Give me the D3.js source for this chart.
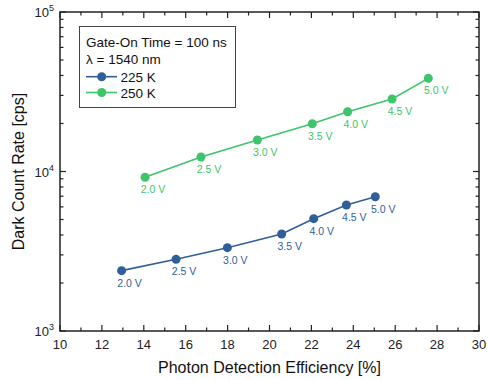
<!DOCTYPE html>
<html><head><meta charset="utf-8">
<script src="https://cdn.jsdelivr.net/npm/d3@7"></script>
<style>body{margin:0;background:#fff}svg{font-family:"Liberation Sans",Arial,sans-serif}</style>
</head><body><svg id="c" width="488" height="380"></svg>
<script>
const voltages = ["2.0 V","2.5 V","3.0 V","3.5 V","4.0 V","4.5 V","5.0 V"];
const pde225 = [12.94,15.54,17.99,20.58,22.11,23.67,25.05];
const dcr225 = [2390,2815,3330,4055,5060,6165,6950];
const pde250 = [14.06,16.73,19.42,22.04,23.73,25.85,27.58];
const dcr250 = [9200,12330,15760,19940,23700,28470,38370];
const xTicks = [10,12,14,16,18,20,22,24,26,28,30];
const yTicks = [1e3,1e4,1e5];
const legendTitle = ["Gate-On Time = 100 ns","λ = 1540 nm"];
const seriesNames = ["225 K","250 K"];
const colors = ["#2f5f9b","#3ec46b"];

const svg = d3.select("#c");
const L=60,R=479,T=12,B=331;
const x = d3.scaleLinear().domain([10,30]).range([L,R]);
const y = d3.scaleLog().domain([1e3,1e5]).range([B,T]);
const axisColor="#222";

// minor ticks
const minorX = d3.range(11,30,2);
const minorY = [];
[1e3,1e4].forEach(d=>{for(let k=2;k<=9;k++)minorY.push(d*k);});

const g = svg.append("g");
// bottom & top ticks
function xt(vals,len){
  vals.forEach(v=>{
    g.append("line").attr("x1",x(v)).attr("x2",x(v)).attr("y1",B).attr("y2",B-len).attr("stroke",axisColor).attr("stroke-width",1.2);
    g.append("line").attr("x1",x(v)).attr("x2",x(v)).attr("y1",T).attr("y2",T+len).attr("stroke",axisColor).attr("stroke-width",1.2);
  });
}
xt(xTicks,6); xt(minorX,3.5);
function yt(vals,len){
  vals.forEach(v=>{
    g.append("line").attr("y1",y(v)).attr("y2",y(v)).attr("x1",L).attr("x2",L+len).attr("stroke",axisColor).attr("stroke-width",1.2);
    g.append("line").attr("y1",y(v)).attr("y2",y(v)).attr("x1",R).attr("x2",R-len).attr("stroke",axisColor).attr("stroke-width",1.2);
  });
}
yt(yTicks,6); yt(minorY,3.5);

g.append("rect").attr("x",L).attr("y",T).attr("width",R-L).attr("height",B-T)
 .attr("fill","none").attr("stroke",axisColor).attr("stroke-width",1.5);

// tick labels
xTicks.forEach(v=>{
  g.append("text").attr("x",x(v)).attr("y",B+18).attr("text-anchor","middle")
   .attr("font-size",13).attr("fill","#222").text(v);
});
yTicks.forEach(v=>{
  const e = Math.round(Math.log10(v));
  const t = g.append("text").attr("x",L-6).attr("y",y(v)+5).attr("text-anchor","end")
   .attr("font-size",13).attr("fill","#222");
  t.append("tspan").text("10");
  t.append("tspan").attr("dy",-6).attr("font-size",9).text(e);
});

// axis titles
svg.append("text").attr("x",(L+R)/2).attr("y",373).attr("text-anchor","middle")
  .attr("font-size",16).attr("fill","#111").text("Photon Detection Efficiency [%]");
svg.append("text").attr("transform",`translate(24,${(T+B)/2}) rotate(-90)`).attr("text-anchor","middle")
  .attr("font-size",16).attr("fill","#111").text("Dark Count Rate [cps]");

// series
const series = [
  {xs:pde225, ys:dcr225, c:colors[0]},
  {xs:pde250, ys:dcr250, c:colors[1]}
];
const line = d3.line().x(d=>x(d[0])).y(d=>y(d[1]));
series.forEach(s=>{
  const pts = s.xs.map((v,i)=>[v,s.ys[i]]);
  svg.append("path").datum(pts).attr("d",line).attr("fill","none").attr("stroke",s.c).attr("stroke-width",1.6);
  svg.selectAll(null).data(pts).enter().append("circle")
    .attr("cx",d=>x(d[0])).attr("cy",d=>y(d[1])).attr("r",4.5).attr("fill",s.c);
  svg.selectAll(null).data(pts).enter().append("text")
    .attr("x",d=>x(d[0])+8).attr("y",d=>y(d[1])+16).attr("text-anchor","middle")
    .attr("font-size",10.5).attr("fill",s.c).text((d,i)=>voltages[i]);
});

// legend
const lg = svg.append("g");
lg.append("rect").attr("x",79.5).attr("y",26.5).attr("width",156).attr("height",81)
  .attr("fill","#fff").attr("stroke","#444").attr("stroke-width",1);
legendTitle.forEach((t,i)=>{
  lg.append("text").attr("x",86).attr("y",46.5+i*17.5).attr("font-size",13.5).attr("fill","#111").text(t);
});
seriesNames.forEach((n,i)=>{
  const yy = 76.7+i*15.8;
  lg.append("line").attr("x1",86).attr("x2",117).attr("y1",yy).attr("y2",yy).attr("stroke",colors[i]).attr("stroke-width",1.6);
  lg.append("circle").attr("cx",101.7).attr("cy",yy).attr("r",4.5).attr("fill",colors[i]);
  lg.append("text").attr("x",120.5).attr("y",yy+5).attr("font-size",13.5).attr("fill","#111").text(n);
});
</script></body></html>
